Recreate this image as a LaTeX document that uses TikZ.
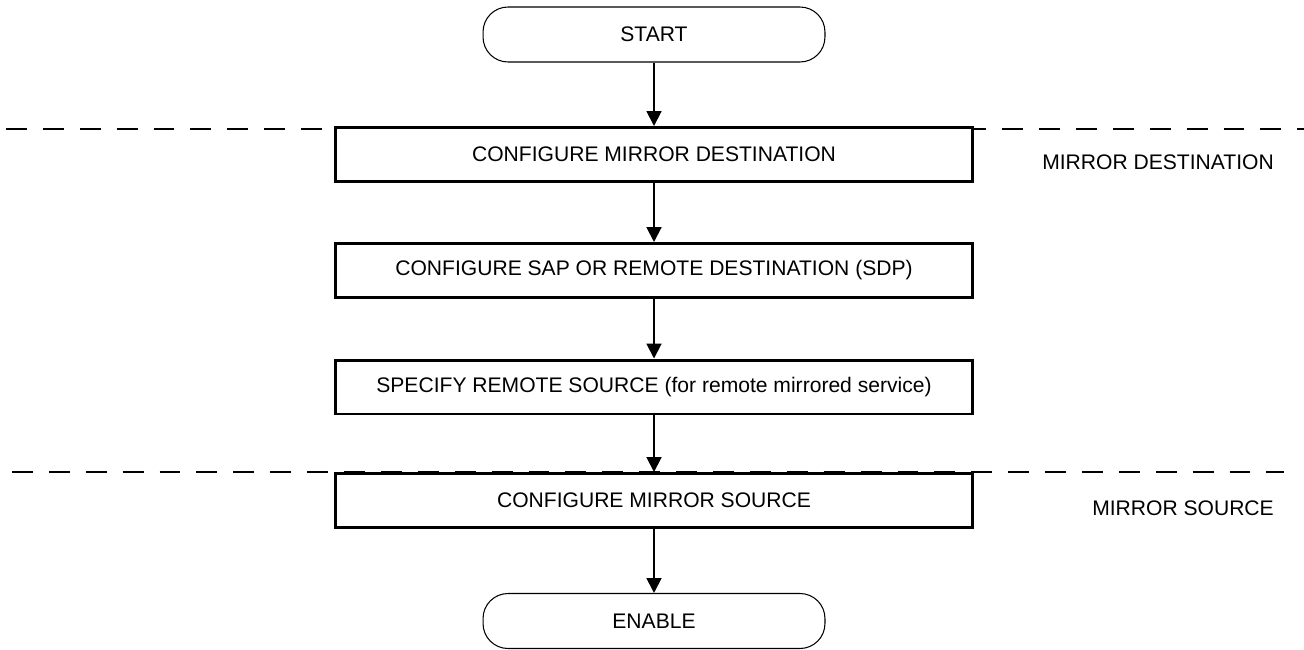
\documentclass[tikz,border=0pt]{standalone}
\usepackage{fontspec}
\setmainfont{Liberation Sans}
\usetikzlibrary{arrows.meta}

\tikzset{
  stepbox/.style={draw, line width=1.7pt, fill=white, minimum width=12.76cm, minimum height=1.08cm, inner sep=0pt},
  termbox/.style={draw, line width=0.6pt, fill=white, rounded corners=0.5cm, minimum width=6.84cm, minimum height=1.1cm, inner sep=0pt},
  flow/.style={line width=1.1pt, -{Triangle[length=8.5pt, width=8.5pt]}},
  zone/.style={line width=0.8pt, dash pattern=on 11.9pt off 9.1pt}
}

\begin{document}
\begin{tikzpicture}[x=0.02cm, y=-0.02cm, font=\fontsize{12}{14}\selectfont]
\useasboundingbox (0,0) rectangle (1304,649);

\draw[zone] (6,129) -- (1304,129);
\draw[zone] (12,472) -- (1284,472);

\node[termbox] (start) at (654,34.5) {START};
\node[stepbox] (dest) at (654,154.5) {CONFIGURE MIRROR DESTINATION};
\node[stepbox] (sap) at (654,270.5) {CONFIGURE SAP OR REMOTE DESTINATION (SDP)};
\node[stepbox] (remote) at (654,387) {SPECIFY REMOTE SOURCE (for remote mirrored service)};
\node[stepbox] (src) at (654,500.5) {CONFIGURE MIRROR SOURCE};
\node[termbox] (enable) at (654,621) {ENABLE};

\draw[flow] (start) -- (dest);
\draw[flow] (dest) -- (sap);
\draw[flow] (sap) -- (remote);
\draw[flow] (remote) -- (src);
\draw[flow] (src) -- (enable);

\node[anchor=east] (lbldest) at (1280,162) {MIRROR DESTINATION};
\node[anchor=east] (lblsrc) at (1280,508) {MIRROR SOURCE};
\end{tikzpicture}
\end{document}
